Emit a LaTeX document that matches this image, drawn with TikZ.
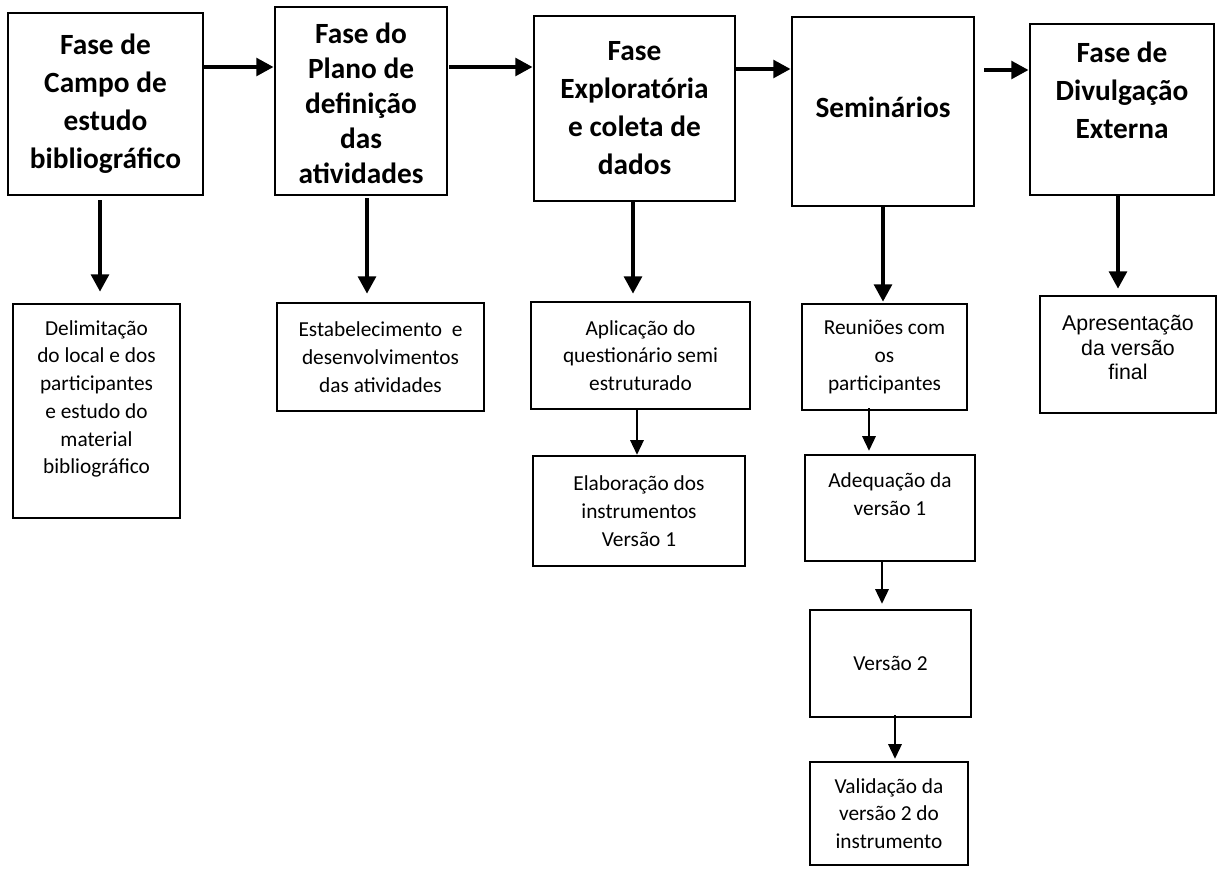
\documentclass[tikz,border=0pt]{standalone}
\usepackage{fontspec}
\setmainfont{Carlito}
\newfontfamily\arialfont{Liberation Sans}
\usetikzlibrary{arrows.meta,positioning}

\begin{document}
\begin{tikzpicture}[
    x=0.75pt, y=-0.75pt,
    phase/.style={rectangle, draw, line width=2pt, inner sep=0pt, align=center, font=\fontsize{22}{28.5}\selectfont\bfseries},
    task/.style={rectangle, draw, line width=1.8pt, inner sep=0pt, align=center, font=\fontsize{16}{20.8}\selectfont},
    bigarrow/.style={-{Triangle[length=13pt,width=13pt]}, line width=3.6pt},
    smallarrow/.style={-{Triangle[length=11pt,width=10pt]}, line width=1.6pt}
]
\fill[white] (0,0) rectangle (1217,868);
\useasboundingbox (0,0) rectangle (1217,868);

% Phases
\node[phase, minimum width=146.25pt, minimum height=136.5pt] (campo) at (105.5,104) {Fase de\\Campo de\\estudo\\bibliográfico};
\node[phase, minimum width=129pt, minimum height=141pt, font=\fontsize{22}{26.3}\selectfont\bfseries] (plano) at (361,101) {\mbox{}\\[-7pt]Fase do\\Plano de\\definição\\das\\atividades};
\node[phase, minimum width=150.75pt, minimum height=138.75pt] (explor) at (634.5,108.5) {Fase\\Exploratória\\e coleta de\\dados};
\node[phase, minimum width=136.5pt, minimum height=141.75pt] (semin) at (883,111.5) {Seminários\\[-22pt]\mbox{}};
\node[phase, minimum width=138pt, minimum height=128.25pt] (divulg) at (1122,109.5) {Fase de\\Divulgação\\Externa\\\mbox{}};

% Arrows between phases
\draw[bigarrow] (campo.east |- 0,67) -- (plano.west |- 0,67);
\draw[bigarrow, shorten <=0.75pt] (plano.east |- 0,67) -- (explor.west |- 0,67);
\draw[bigarrow] (explor.east |- 0,69) -- (semin.west |- 0,69);
\draw[bigarrow, shorten <=6.75pt] (semin.east |- 0,70) -- (divulg.west |- 0,70);

% Activities
\node[task, minimum width=125.25pt, minimum height=160.5pt] (delim) at (96.5,411) {Delimitação\\do local e dos\\participantes\\e estudo do\\material\\bibliográfico\\\mbox{}};
\node[task, minimum width=155.25pt, minimum height=81pt] (estab) at (380.5,357) {Estabelecimento\ \ e\\desenvolvimentos\\das atividades};
\node[task, minimum width=164.25pt, minimum height=80.25pt] (aplic) at (640.5,355.5) {Aplicação do\\questionário semi\\estruturado};
\node[task, minimum width=159pt, minimum height=82.5pt] (elab) at (639,511) {Elaboração dos\\instrumentos\\Versão 1};
\node[task, minimum width=123.75pt, minimum height=79.5pt] (reun) at (884.5,357) {Reuniões com\\os\\participantes};
\node[task, minimum width=127.5pt, minimum height=79.5pt] (adeq) at (890,508) {Adequação da\\versão 1\\\mbox{}};
\node[task, minimum width=120.75pt, minimum height=80.25pt] (versao) at (890.5,663.5) {Versão 2};
\node[task, minimum width=118.5pt, minimum height=77.25pt] (valid) at (889,813.5) {Validação da\\versão 2 do\\instrumento};
\node[task, minimum width=132pt, minimum height=87.75pt, font=\fontsize{16}{18.5}\selectfont\arialfont] (apres) at (1128,354.5) {Apresentação\\da versão\\final\\[-8pt]\mbox{}};

% Phases to activities
\draw[bigarrow, shorten <=3pt, shorten >=8.25pt] (campo.south -| 100,0) -- (delim.north -| 100,0);
\draw[bigarrow, shorten <=1.5pt, shorten >=6pt] (plano.south -| 367,0) -- (estab.north -| 367,0);
\draw[bigarrow, shorten >=5.25pt] (explor.south -| 633,0) -- (aplic.north -| 633,0);
\draw[bigarrow, shorten >=0.75pt] (semin.south -| 883,0) -- (reun.north -| 883,0);
\draw[bigarrow, shorten >=4.5pt] (divulg.south -| 1118,0) -- (apres.north -| 1118,0);

% Sequences below
\draw[smallarrow] (aplic.south -| 637,0) -- (elab.north -| 637,0);
\draw[smallarrow, shorten <=-2.25pt, shorten >=2.25pt] (reun.south -| 869,0) -- (adeq.north -| 869,0);
\draw[smallarrow, shorten >=3.75pt] (adeq.south -| 882,0) -- (versao.north -| 882,0);
\draw[smallarrow, shorten <=-2.25pt, shorten >=1.5pt] (versao.south -| 895,0) -- (valid.north -| 895,0);

\end{tikzpicture}
\end{document}
